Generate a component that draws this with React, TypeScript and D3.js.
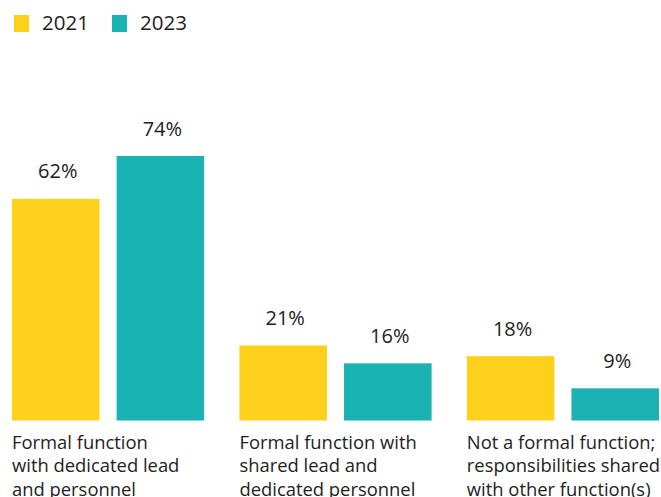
import React from "react";
import * as d3 from "d3";

const categories = [
  ["Formal function", "with dedicated lead", "and personnel"],
  ["Formal function with", "shared lead and", "dedicated personnel"],
  ["Not a formal function;", "responsibilities shared", "with other function(s)"],
];
const seriesNames = ["2021", "2023"];
const values2021 = [62, 21, 18];
const values2023 = [74, 16, 9];
const colors = ["#FDD11B", "#1BB2B3"];

export default function App() {
  const W = 661, H = 497;
  const x0 = d3.scaleBand<number>().domain([0, 1, 2]).range([12, 659]).paddingInner(0.155).paddingOuter(0);
  const x1 = d3.scaleBand<number>().domain([0, 1]).range([0, x0.bandwidth()]).paddingInner(0.163).paddingOuter(0);
  const y = d3.scaleLinear().domain([0, 74]).range([420.5, 156]);
  const series = [values2021, values2023];
  const font = "'Open Sans', 'Noto Sans', sans-serif";
  return (
    <svg width={W} height={H} style={{ position: "absolute", left: 0, top: 0 }} fontFamily={font}>
      {seriesNames.map((s, i) => (
        <g key={s} transform={`translate(${14 + i * 98},15)`}>
          <rect width={15} height={17} fill={colors[i]} />
          <text x={28} y={15} fontSize={20.5} fill="#222">{s}</text>
        </g>
      ))}
      {categories.map((c, ci) => (
        <g key={ci} transform={`translate(${x0(ci)},0)`}>
          {series.map((vals, si) => (
            <g key={si}>
              <rect x={x1(si)} y={y(vals[ci])} width={x1.bandwidth()} height={y(0) - y(vals[ci])} fill={colors[si]} />
              <text x={(x1(si) as number) + x1.bandwidth() / 2 + 2} y={y(vals[ci]) - 20.5} textAnchor="middle" fontSize={20} fill="#222">
                {vals[ci]}%
              </text>
            </g>
          ))}
          {c.map((line, li) => (
            <text key={li} x={0} y={448.5 + li * 23.5} fontSize={18.4} fill="#222">{line}</text>
          ))}
        </g>
      ))}
    </svg>
  );
}
